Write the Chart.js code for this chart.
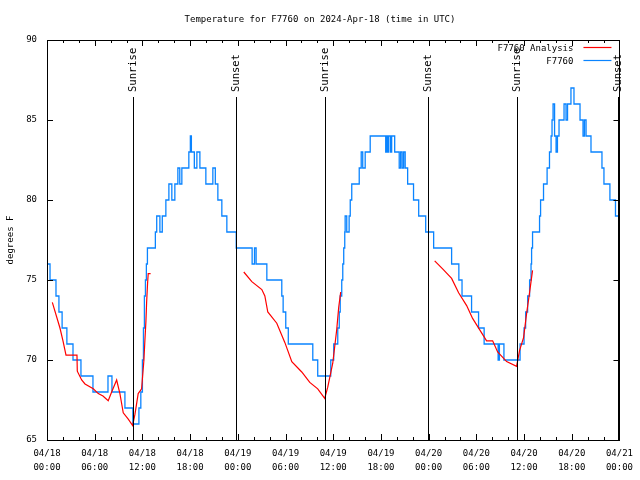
<!DOCTYPE html>
<html>
<head>
<meta charset="utf-8">
<script src="https://cdn.jsdelivr.net/npm/chart.js@4.4.1/dist/chart.umd.min.js"></script>
<style>
  html, body { margin: 0; padding: 0; background: #fff; }
  #wrap { width: 640px; height: 480px; }
</style>
</head>
<body>
<div id="wrap"><canvas id="myChart" width="640" height="480"></canvas></div>
<script>
// Horas desde 04/18 00:00 UTC y temperatura (F)
var obsHours = [0, 0.38, 1.13, 1.5, 1.9, 2.5, 3.27, 4.27, 5.78, 7.67, 8.17, 9.8, 10.8, 11.56, 11.8, 12.0, 12.13, 12.25, 12.38, 12.5, 12.63,
  13.63, 13.8, 14.2, 14.5, 14.95, 15.33, 15.7, 16.08, 16.46, 16.7, 16.96, 17.84, 18.03, 18.16, 18.53, 18.85, 19.23, 19.98, 20.86, 21.17,
  21.49, 21.99, 22.62, 23.8, 25.8, 26.1, 26.3, 27.65, 29.53, 29.7, 30.03, 30.35, 33.43, 34.05, 35.69, 36.06, 36.57, 36.76, 36.88, 37.07,
  37.2, 37.32, 37.45, 37.5, 37.7, 38.0, 38.14, 38.33, 39.27, 39.52, 39.71, 40.02, 40.65, 42.6, 42.72, 42.85, 42.97, 43.2, 43.35, 43.73,
  44.3, 44.48, 44.67, 44.86, 45.05, 45.36, 46.1, 46.75, 47.63, 48.63, 50.89, 51.8, 52.2, 53.4, 54.28, 54.98, 56.74, 56.9, 57.47, 59.5,
  60.0, 60.2, 60.45, 60.7, 60.88, 60.95, 61.07, 61.95, 62.08, 62.45, 62.9, 63.2, 63.4, 63.52, 63.65, 63.84, 64.03, 64.2, 64.4, 65.03,
  65.28, 65.47, 65.9, 66.28, 67.04, 67.42, 67.6, 67.8, 68.42, 69.8, 70.05, 70.8, 71.5, 72];
var obsTemps = [76, 75, 74, 73, 72, 71, 70, 69, 68, 69, 68, 67, 66, 67, 68, 70, 72, 74, 75, 76, 77,
  78, 79, 78, 79, 80, 81, 80, 81, 82, 81, 82, 83, 84, 83, 82, 83, 82, 81, 82, 81,
  80, 79, 78, 77, 76, 77, 76, 75, 74, 73, 72, 71, 70, 69, 70, 71, 72, 73, 74, 75,
  76, 77, 78, 79, 78, 79, 80, 81, 82, 83, 82, 83, 84, 83, 84, 83, 84, 83, 84, 83,
  82, 83, 82, 83, 82, 81, 80, 79, 78, 77, 76, 75, 74, 73, 72, 71, 70, 71, 70, 71,
  72, 73, 74, 75, 76, 77, 78, 79, 80, 81, 82, 83, 84, 85, 86, 84, 83, 84, 85, 86,
  85, 86, 87, 86, 85, 84, 85, 84, 83, 82, 81, 80, 79, 79];

// Analisis: tres tramos, null = hueco
var anaHours = [0.67, 1.63, 2.01, 2.39, 2.64, 3.77, 3.81, 4.36, 4.78, 5.82, 6.45, 7.04, 7.70, 8.13, 8.76, 9.17, 9.59, 10.22, 10.77,
  11.06, 11.47, 11.9, 12.19, 12.31, 12.44, 12.53, 12.65, 12.73, 13.03,
  18.0,
  24.75, 25.76, 27.02, 27.4, 27.77, 28.9, 29.91, 30.79, 32.04, 33.05, 34.05, 34.93, 35.31, 35.94, 36.44, 36.69, 36.94,
  42.0,
  48.76, 49.76, 50.89, 51.77, 52.78, 53.53, 54.41, 55.29, 56.05, 56.68, 57.81, 59.06, 59.44, 59.94, 60.32, 60.69, 61.07];
var anaTemps = [73.6, 72.0, 71.2, 70.3, 70.3, 70.3, 69.3, 68.75, 68.5, 68.2, 67.9, 67.75, 67.45, 68.0, 68.75, 67.9, 66.7, 66.3, 65.9,
  66.6, 67.9, 68.2, 70.0, 71.2, 72.4, 73.6, 74.8, 75.4, 75.4,
  null,
  75.5, 74.9, 74.4, 74.0, 73.0, 72.3, 71.1, 69.9, 69.25, 68.6, 68.2, 67.6, 68.3, 69.8, 71.9, 73.3, 74.25,
  null,
  76.2, 75.7, 75.1, 74.2, 73.4, 72.6, 71.9, 71.2, 71.2, 70.5, 69.9, 69.6, 70.6, 71.4, 72.9, 74.2, 75.6];

// Salida / puesta del sol (horas)
var sunHours = [10.81, 23.75, 34.93, 47.88, 59.06, 71.88];
var sunLabels = ['Sunrise', 'Sunset', 'Sunrise', 'Sunset', 'Sunrise', 'Sunset'];

// Etiquetas del eje x, una cada 6 horas
var xTickDates = ['04/18', '04/18', '04/18', '04/18', '04/19', '04/19', '04/19', '04/19', '04/20', '04/20', '04/20', '04/20', '04/21'];
var xTickTimes = ['00:00', '06:00', '12:00', '18:00', '00:00', '06:00', '12:00', '18:00', '00:00', '06:00', '12:00', '18:00', '00:00'];

var chartTitle = 'Temperature for F7760 on 2024-Apr-18 (time in UTC)';
var FONT = 'DejaVu Sans Mono';

function pares(xs, ys) {
    return xs.map(function(x, i) { return { x: x, y: ys[i] }; });
}

Chart.defaults.font.family = FONT;
Chart.defaults.font.size = 9;
Chart.defaults.color = '#000';

// Plugin para dibujar al estilo gnuplot: marco, ticks hacia dentro, lineas del sol, leyenda y titulo
var estiloGnuplot = {
    id: 'estiloGnuplot',
    afterDraw: function(chart) {
        var c = chart.ctx;
        var a = chart.chartArea;
        var xs = chart.scales.x, ys = chart.scales.y;
        c.save();
        c.strokeStyle = '#000';
        c.lineWidth = 1;

        // marco
        c.strokeRect(Math.round(a.left) + 0.5, Math.round(a.top) + 0.5, Math.round(a.right - a.left), Math.round(a.bottom - a.top));

        // ticks x (mayores cada 6h, menores cada 2h)
        c.beginPath();
        xs.ticks.forEach(function(t) {
            var px = Math.round(xs.getPixelForValue(t.value)) + 0.5;
            var len = (t.value % 6 === 0) ? 6 : 3;
            c.moveTo(px, a.bottom); c.lineTo(px, a.bottom - len);
            c.moveTo(px, a.top); c.lineTo(px, a.top + len);
        });
        ys.ticks.forEach(function(t) {
            var py = Math.round(ys.getPixelForValue(t.value)) + 0.5;
            c.moveTo(a.left, py); c.lineTo(a.left + 6, py);
            c.moveTo(a.right, py); c.lineTo(a.right - 6, py);
        });
        c.stroke();

        // lineas de salida / puesta del sol
        c.font = '10.5px "' + FONT + '"';
        sunHours.forEach(function(h, i) {
            var px = Math.round(xs.getPixelForValue(h)) + 0.5;
            c.beginPath();
            c.moveTo(px, a.top + 57);
            c.lineTo(px, a.bottom);
            c.stroke();
            c.save();
            c.translate(px + 3, a.top + 52);
            c.rotate(-Math.PI / 2);
            c.textAlign = 'left';
            c.textBaseline = 'middle';
            c.fillStyle = '#000';
            c.fillText(sunLabels[i], 0, -3);
            c.restore();
        });

        // leyenda
        c.font = '9px "' + FONT + '"';
        c.textAlign = 'right';
        c.textBaseline = 'middle';
        chart.data.datasets.forEach(function(ds, i) {
            var y = a.top + 9 + i * 13;
            c.fillStyle = '#000';
            c.fillText(ds.label, a.right - 46, y);
            c.strokeStyle = ds.borderColor;
            c.lineWidth = 1.2;
            c.beginPath();
            c.moveTo(a.right - 36, y - 1.5);
            c.lineTo(a.right - 8, y - 1.5);
            c.stroke();
        });

        // titulo
        c.fillStyle = '#000';
        c.textAlign = 'center';
        c.fillText(chartTitle, chart.width / 2, 20);
        c.restore();
    }
};

var ctx = document.getElementById('myChart').getContext('2d');
var myChart = new Chart(ctx, {
    type: 'line',
    data: {
        datasets: [
            {
                label: 'F7760 Analysis',
                data: pares(anaHours, anaTemps),
                borderColor: '#ff0000',
                borderWidth: 1.2,
                pointRadius: 0,
                spanGaps: false,
                order: 0
            },
            {
                label: 'F7760',
                data: pares(obsHours, obsTemps),
                borderColor: '#0a84ff',
                borderWidth: 1.3,
                pointRadius: 0,
                stepped: true,
                order: 1
            }
        ]
    },
    options: {
        responsive: false,
        animation: false,
        events: [],
        layout: { padding: { top: 40, right: 20, left: 0, bottom: 0 } },
        plugins: {
            legend: { display: false },
            tooltip: { enabled: false }
        },
        scales: {
            x: {
                type: 'linear',
                min: 0,
                max: 72,
                afterFit: function(s) { s.height = 40; },
                grid: { display: false, drawTicks: false },
                border: { display: false },
                ticks: {
                    stepSize: 2,
                    autoSkip: false,
                    maxRotation: 0,
                    padding: 7,
                    font: { size: 9, lineHeight: 1.55 },
                    callback: function(v) {
                        if (v % 6 !== 0) return '';
                        return [xTickDates[v / 6], xTickTimes[v / 6]];
                    }
                }
            },
            y: {
                type: 'linear',
                min: 65,
                max: 90,
                afterFit: function(s) { s.width = 47; },
                grid: { display: false, drawTicks: false },
                border: { display: false },
                ticks: { stepSize: 5, padding: 10, font: { size: 9 } },
                title: {
                    display: true,
                    text: 'degrees F',
                    font: { size: 9 },
                    padding: { top: 5, bottom: 0 }
                }
            }
        }
    },
    plugins: [estiloGnuplot]
});
</script>
</body>
</html>
